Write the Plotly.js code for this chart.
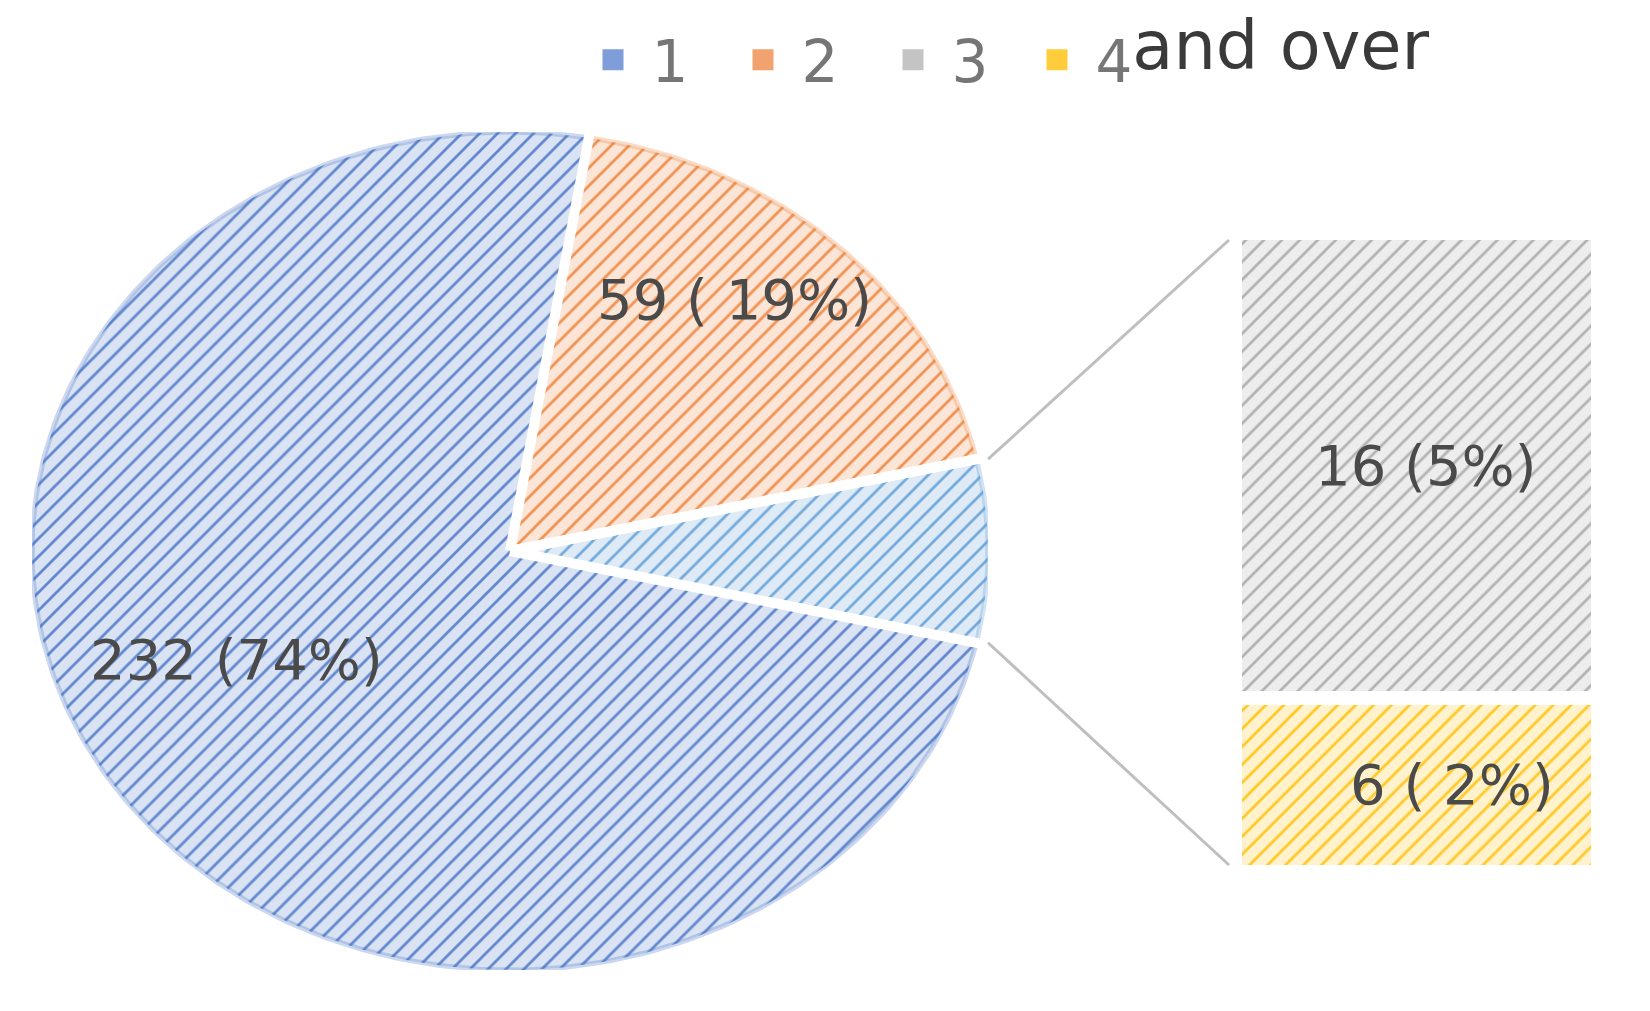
<!DOCTYPE html>
<html><head><meta charset="utf-8">
<script src="https://cdn.plot.ly/plotly-3.0.1.min.js"></script>
<style>html,body{margin:0;padding:0;background:#fff}#chart{width:1650px;height:1011px}</style>
</head><body><div id="chart"></div>
<script>
// ---------- data ----------
const categories = ['1', '2', '3', '4and over'];
const counts = [232, 59, 16, 6];
const labelTexts = ['232 (74%)', '59 ( 19%)', '16 (5%)', '6 ( 2%)'];
const pieIdx = [0, 1];        // categories drawn as pie slices
const barIdx = [2, 3];        // categories split out into the bar ("other")

// ---------- styles ----------
const fgColors = ['#4472C4', '#ED7D31', '#A5A5A5', '#FFC000'];
const bgColors = ['#DAE3F3', '#FBE5D6', '#EDEDED', '#FFF2CC'];
const rimColors = ['rgba(68,114,196,0.28)', 'rgba(237,125,49,0.28)'];
const legendColors = ['#7F9DD9', '#F2A26E', '#C4C4C4', '#FFCD3C'];
const otherFg = '#5B9BD5', otherBg = '#DEEBF7', otherRim = 'rgba(91,155,213,0.28)';
const W = 1650, H = 1011;
const PIE_X = [32 / W, 988 / W], PIE_Y = [1 - 970 / H, 1 - 132 / H];
const BAR_X = [1235 / W, 1598 / W], BAR_Y = [1 - 872 / H, 1 - 233 / H];
const FONT = 'DejaVu Sans';
const LABEL_FONT = {family: FONT, size: 56, color: '#4a4a4a'};

function pat(fg, bg) {
  return {shape: '/', fgcolor: fg, bgcolor: bg, size: 12.7, solidity: 0.22, fgopacity: 0.8};
}

// ---------- geometry from data ----------
const total = counts.reduce((a, b) => a + b, 0);
const otherVal = barIdx.reduce((s, i) => s + counts[i], 0);
const deg = v => v / total * 360;
const otherStart = 90 - deg(otherVal) / 2;
const otherEnd = 90 + deg(otherVal) / 2;

function wedge(a0, a1) {
  const xs = [0], ys = [0];
  const n = Math.max(2, Math.ceil(a1 - a0));
  for (let i = 0; i <= n; i++) {
    const t = (a0 + (a1 - a0) * i / n) * Math.PI / 180;
    xs.push(Math.sin(t)); ys.push(Math.cos(t));
  }
  xs.push(0); ys.push(0);
  return {xs, ys};
}

const traces = [];
let a = otherEnd;
const boundaries = [otherStart, otherEnd];
pieIdx.forEach((i, k) => {
  const a1 = a + deg(counts[i]);
  const w = wedge(a, a1);
  traces.push({
    type: 'scatter', x: w.xs, y: w.ys, mode: 'lines', fill: 'toself',
    line: {width: 5, color: rimColors[k]}, fillcolor: bgColors[i],
    fillpattern: pat(fgColors[i], bgColors[i]),
    name: categories[i], showlegend: false, hoverinfo: 'skip'
  });
  a = a1;
  boundaries.push(a1);
});
// combined "other" slice
const wo = wedge(otherStart, otherEnd);
traces.push({
  type: 'scatter', x: wo.xs, y: wo.ys, mode: 'lines', fill: 'toself',
  line: {width: 5, color: otherRim}, fillcolor: otherBg,
  fillpattern: pat(otherFg, otherBg),
  name: 'other', showlegend: false, hoverinfo: 'skip'
});
// white separators between slices
const sx = [], sy = [];
boundaries.forEach(b => {
  const t = b * Math.PI / 180;
  sx.push(0, 1.03 * Math.sin(t), null); sy.push(0, 1.03 * Math.cos(t), null);
});
traces.push({type: 'scatter', x: sx, y: sy, mode: 'lines', line: {color: '#ffffff', width: 10},
  showlegend: false, hoverinfo: 'skip'});

// bar of the "other" slice (bottom = last category)
const barOrder = barIdx.slice().reverse();
barOrder.forEach(i => {
  traces.push({
    type: 'bar', x: [0], y: [counts[i]], width: [1], xaxis: 'x2', yaxis: 'y2',
    name: categories[i], showlegend: false, hoverinfo: 'skip',
    marker: {color: bgColors[i], pattern: pat(fgColors[i], bgColors[i]), line: {color: '#ffffff', width: 14}}
  });
});

// legend entries
categories.forEach((c, i) => {
  let nm = '\u00a0' + c;
  let lg = 'legend';
  if (i === 3) {
    nm = '\u00a0' + c.slice(0, 1) + '<span style="font-size:67px;color:#3a3a3a;baseline-shift:13px">' + c.slice(1) + '</span>';
    lg = 'legend2';
  }
  traces.push({
    type: 'scatter', x: [null], y: [null], mode: 'markers', name: nm, legend: lg,
    marker: {symbol: 'square', size: 16, color: legendColors[i], line: {color: legendColors[i], width: 5}},
    showlegend: true, hoverinfo: 'skip'
  });
});

// ---------- annotations (labels) ----------
const annotations = [
  {xref: 'x', yref: 'y', x: -0.573, y: -0.258, text: labelTexts[pieIdx[0]], showarrow: false, font: LABEL_FONT},
  {xref: 'x', yref: 'y', x: 0.469, y: 0.601, text: labelTexts[pieIdx[1]], showarrow: false, font: LABEL_FONT}
];
const barLabelDx = [0.026, 0.098];
let base = 0;
barOrder.forEach(i => {
  annotations.push({xref: 'x2', yref: 'y2', x: barLabelDx[barIdx.indexOf(i)], y: base + counts[i] / 2,
    text: labelTexts[i], showarrow: false, font: LABEL_FONT});
  base += counts[i];
});

// ---------- layout ----------
const toPX = u => PIE_X[0] + (u + 1) / 2 * (PIE_X[1] - PIE_X[0]);
const toPY = v => PIE_Y[0] + (v + 1) / 2 * (PIE_Y[1] - PIE_Y[0]);
function connector(angle, yEnd) {
  const t = angle * Math.PI / 180;
  return {type: 'line', xref: 'paper', yref: 'paper', layer: 'above',
    x0: toPX(1.025 * Math.sin(t)), y0: toPY(Math.cos(t)),
    x1: BAR_X[0] - 6 / W, y1: yEnd,
    line: {color: '#BFBFBF', width: 3}};
}
const hidden = {visible: false, showgrid: false, zeroline: false, fixedrange: true};
const legendBase = {orientation: 'h', xanchor: 'left', y: 1 - 60 / H, yanchor: 'middle',
  font: {family: FONT, size: 58, color: '#767676'}, itemsizing: 'trace',
  bgcolor: 'rgba(0,0,0,0)', traceorder: 'normal'};
const layout = {
  width: W, height: H, margin: {l: 0, r: 0, t: 0, b: 0},
  paper_bgcolor: '#ffffff', plot_bgcolor: 'rgba(0,0,0,0)',
  hovermode: false, barmode: 'stack', bargap: 0,
  xaxis: Object.assign({domain: PIE_X, range: [-1, 1]}, hidden),
  yaxis: Object.assign({domain: PIE_Y, range: [-1, 1]}, hidden),
  xaxis2: Object.assign({domain: BAR_X, range: [-0.5, 0.5], anchor: 'y2'}, hidden),
  yaxis2: Object.assign({domain: BAR_Y, range: [0, otherVal], anchor: 'x2'}, hidden),
  showlegend: true,
  legend: Object.assign({x: 593 / W, entrywidth: 105, entrywidthmode: 'pixels'}, legendBase),
  legend2: Object.assign({x: 1037 / W}, legendBase),
  annotations: annotations,
  shapes: [
    connector(otherStart, BAR_Y[1] - 7 / H),
    connector(otherEnd, BAR_Y[0] + 7 / H)
  ]
};
Plotly.newPlot('chart', traces, layout, {displayModeBar: false, staticPlot: true});
</script>
</body></html>
